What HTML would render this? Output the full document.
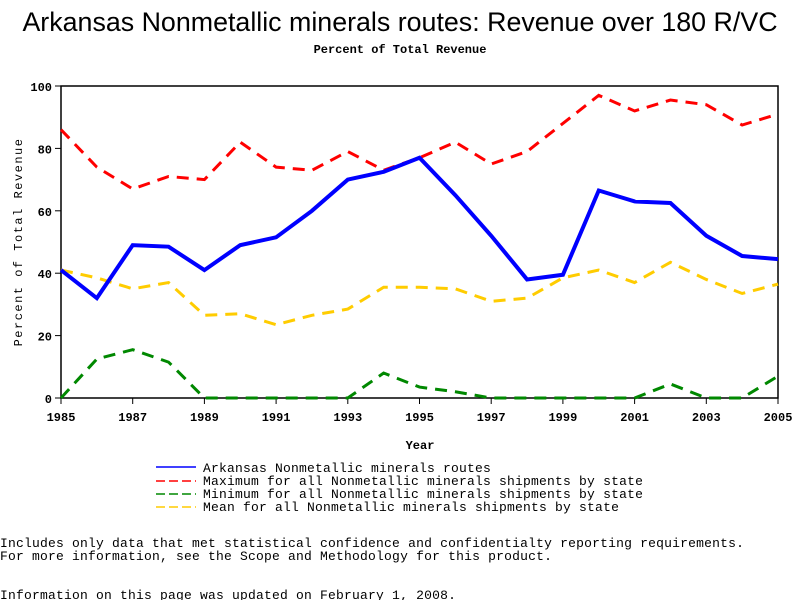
<!DOCTYPE html>
<html><head><style>
body{margin:0;background:#fff;width:800px;height:600px;overflow:hidden}
svg text{font-family:"Liberation Mono",monospace}
</style></head><body>
<svg id="s" width="800" height="600" xmlns="http://www.w3.org/2000/svg">
<text x="400" y="31" text-anchor="middle" style="font-family:'Liberation Sans',sans-serif" font-size="26.8">Arkansas Nonmetallic minerals routes: Revenue over 180 R/VC</text>
<text x="400" y="53" text-anchor="middle" font-size="12" font-weight="bold">Percent of Total Revenue</text>
<rect x="61" y="86" width="717" height="312" fill="none" stroke="#000" stroke-width="1.5"/>
<g id="ax" font-size="12" font-weight="bold"></g>
<text x="420" y="449" text-anchor="middle" font-size="12" font-weight="bold">Year</text>
<text transform="translate(22,242) rotate(-90)" text-anchor="middle" font-size="12" letter-spacing="1.5">Percent of Total Revenue</text>
<g id="lines"></g>
<g font-size="13" letter-spacing="0.2">
<line x1="156" y1="467" x2="196" y2="467" stroke="#00f" stroke-width="1.5"/>
<line x1="156" y1="481" x2="196" y2="481" stroke="#f00" stroke-width="1.5" stroke-dasharray="9,4"/>
<line x1="156" y1="494" x2="196" y2="494" stroke="#080" stroke-width="1.5" stroke-dasharray="9,4"/>
<line x1="156" y1="507" x2="196" y2="507" stroke="#fc0" stroke-width="1.5" stroke-dasharray="9,4"/>
<text x="203" y="472">Arkansas Nonmetallic minerals routes</text>
<text x="203" y="485">Maximum for all Nonmetallic minerals shipments by state</text>
<text x="203" y="498">Minimum for all Nonmetallic minerals shipments by state</text>
<text x="203" y="511">Mean for all Nonmetallic minerals shipments by state</text>
<text x="0" y="547">Includes only data that met statistical confidence and confidentialty reporting requirements.</text>
<text x="0" y="560">For more information, see the Scope and Methodology for this product.</text>
<text x="0" y="599">Information on this page was updated on February 1, 2008.</text>
</g>
</svg>
<script>
var X=y=>61+(y-1985)*35.85, Y=v=>398-v*3.12;
var ax=document.getElementById('ax'),h='';
for(var v=0;v<=100;v+=20){h+='<line x1="55" x2="61" y1="'+Y(v)+'" y2="'+Y(v)+'" stroke="#000"/><text x="52" y="'+(Y(v)+5)+'" text-anchor="end">'+v+'</text>';}
for(var yr=1985;yr<=2005;yr+=2){h+='<line x1="'+X(yr)+'" x2="'+X(yr)+'" y1="398" y2="404" stroke="#000"/><text x="'+X(yr)+'" y="421" text-anchor="middle">'+yr+'</text>';}
ax.innerHTML=h;
var D=[
["#f00",3,"12,8",[86,74,67,71,70,82,74,73,79,73,77,82,75,79,88,97,92,95.5,94,87.5,91]],
["#fc0",3,"12,8",[41,38.5,35,37,26.5,27,23.5,26.5,28.5,35.5,35.5,35,31,32,38.5,41,37,43.5,38,33.5,36.5]],
["#080",3,"12,8",[0,12.5,15.5,11.5,0,0,0,0,0,8,3.5,2,0,0,0,0,0,4.5,0,0,7]],
["#00f",4,"none",[41,32,49,48.5,41,49,51.5,60,70,72.5,77,65,52,38,39.5,66.5,63,62.5,52,45.5,44.5]]];
var g='';
D.forEach(d=>{g+='<polyline fill="none" stroke="'+d[0]+'" stroke-width="'+d[1]+'" stroke-dasharray="'+d[2]+'" points="'+d[3].map((v,i)=>X(1985+i)+','+Y(v)).join(' ')+'"/>';});
document.getElementById('lines').innerHTML=g;
</script>
</body></html>
